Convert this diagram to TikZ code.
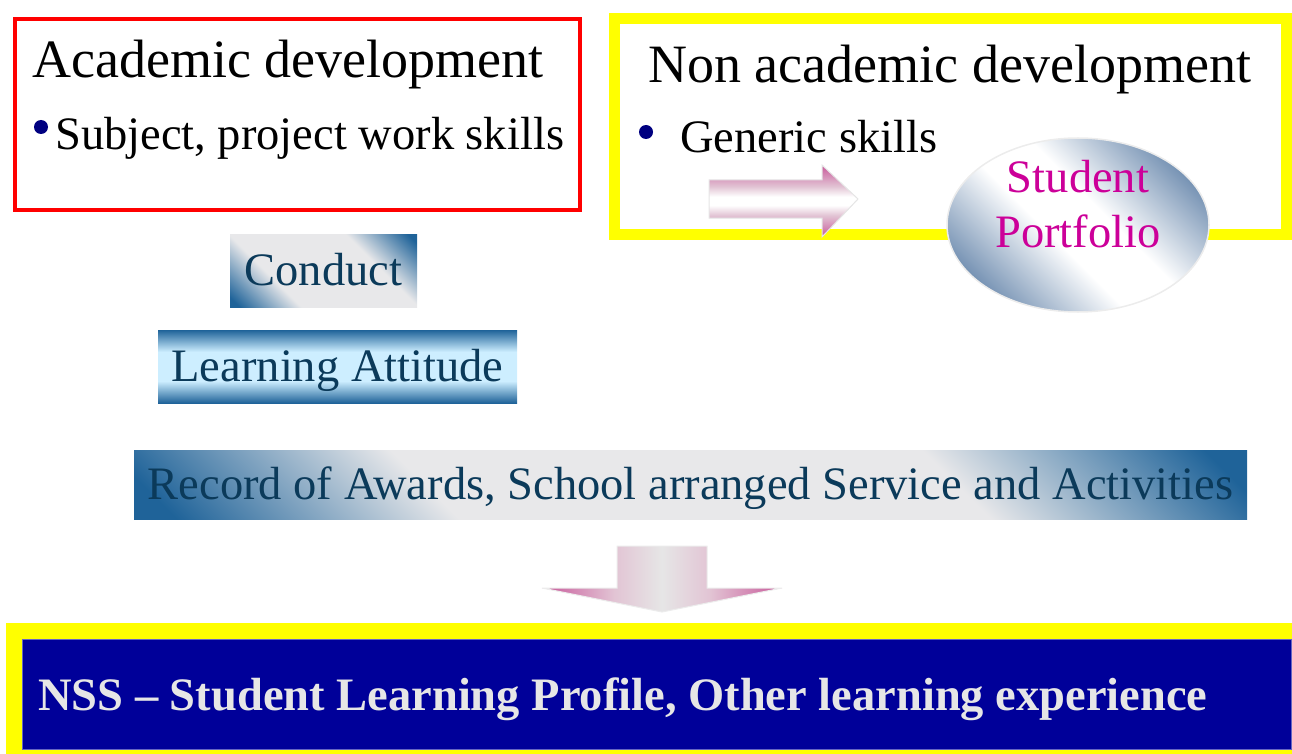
\documentclass[tikz,border=0pt]{standalone}
\usepackage{fontspec}
\usepackage{graphicx}
\newfontfamily\tnr{Liberation Serif}
\usetikzlibrary{shapes.geometric}
\definecolor{dblue}{HTML}{1F6399}
\definecolor{lgrey}{HTML}{E8E8EA}
\definecolor{tnavy}{HTML}{0B3A5A}
\definecolor{bnavy}{HTML}{000099}
\definecolor{mag}{HTML}{CC0099}
\definecolor{bul}{HTML}{000080}
\definecolor{steel}{HTML}{7390B2}
\definecolor{lcyan}{HTML}{CDEEFF}
\definecolor{pinkd}{HTML}{C8589A}
\definecolor{pinkl}{HTML}{E2C4D4}
\definecolor{greyc}{HTML}{E6E6E6}
\definecolor{ywl}{HTML}{FFFF00}
\pgfdeclareverticalshading{diagbox}{100bp}{color(0bp)=(dblue); color(17bp)=(dblue); color(34bp)=(lgrey); color(66bp)=(lgrey); color(83bp)=(dblue); color(100bp)=(dblue)}
\pgfdeclareverticalshading{ellshade}{100bp}{color(0bp)=(steel); color(24bp)=(steel); color(44bp)=(white); color(56bp)=(white); color(76bp)=(steel); color(100bp)=(steel)}
\pgfdeclareverticalshading{vband}{100bp}{color(0bp)=(dblue); color(25bp)=(dblue); color(40bp)=(lcyan); color(60bp)=(lcyan); color(75bp)=(dblue); color(100bp)=(dblue)}
\pgfdeclareverticalshading{pinkv}{100bp}{color(0bp)=(pinkd); color(25bp)=(pinkd); color(40bp)=(pinkl); color(47bp)=(white); color(53bp)=(white); color(60bp)=(pinkl); color(75bp)=(pinkd); color(100bp)=(pinkd)}
\pgfdeclarehorizontalshading{pinkh}{100bp}{color(0bp)=(pinkd); color(25bp)=(pinkd); color(40bp)=(pinkl); color(50bp)=(greyc); color(60bp)=(pinkl); color(75bp)=(pinkd); color(100bp)=(pinkd)}
% text is set at half size and scaled up twice
\newcommand{\bigt}[1]{\scalebox{2}{\tnr\fontsize{27}{30}\selectfont #1}}
\newcommand{\medt}[1]{\scalebox{2}{\tnr\fontsize{23.25}{27}\selectfont #1}}
\newcommand{\boldt}[1]{\scalebox{2}{\tnr\bfseries\fontsize{23.25}{27}\selectfont #1}}
\tikzset{
  txt/.style={inner sep=0pt, anchor=base west},
  bulletdot/.style={circle, fill=bul, inner sep=0pt, minimum size=14pt},
  gbox/.style={inner sep=0pt, text=tnavy, text height=30pt, text depth=0pt},
}
\begin{document}
\begin{tikzpicture}[x=1pt,y=-1pt]
\useasboundingbox (0,0) rectangle (1292,754);
% top boxes
\draw[red, line width=4pt] (15,19) rectangle (580,210);
\draw[ywl, line width=11pt] (614,19) rectangle (1286,234);
\node[txt] (acad) at (32,78) {\bigt{Academic development}};
\node[bulletdot] (b1) at (41,127) {};
\node[txt] (subj) at (55,150) {\medt{Subject, project work skills}};
\node[txt] (nonacad) at (648,83) {\bigt{Non academic development}};
\node[bulletdot] (b2) at (646,132) {};
\node[txt] (gen) at (680,153) {\medt{Generic skills}};
% right block arrow
\path[shading=pinkv, draw=gray!20, line width=1pt]
  (709,180) -- (822,180) -- (822,165) -- (858,199) -- (822,237) -- (822,218) -- (709,218) -- cycle;
% portfolio ellipse
\node[ellipse, shading=ellshade, shading angle=-45, draw=gray!15, line width=1.5pt,
      minimum width=262pt, minimum height=174pt, inner sep=0pt] (port) at (1078,225) {};
\node[txt, anchor=base, text=mag] (stud) at (1078,193) {\medt{Student}};
\node[txt, anchor=base, text=mag] (portf) at (1078,247) {\medt{Portfolio}};
% gradient boxes
\node[gbox, shading=diagbox, shading angle=-45, minimum width=187pt, minimum height=73pt] (cond) at (323.5,270.5) {\medt{Conduct}};
\node[gbox, shading=vband, minimum width=359pt, minimum height=73pt] (learn) at (337.5,366.5) {\medt{Learning Attitude}};
\node[gbox, shading=diagbox, shading angle=-45, minimum width=1113pt, minimum height=69pt] (rec) at (690.5,484.5) {\medt{Record of Awards, School arranged Service and Activities}};
% down block arrow
\path[shading=pinkh, draw=gray!15, line width=1pt]
  (617,546) -- (707,546) -- (707,588) -- (782,588) -- (662,612) -- (542,588) -- (617,588) -- cycle;
% bottom banner
\fill[ywl] (6,623) rectangle (1292,754);
\node[fill=bnavy, draw=bnavy!60!white, line width=1pt, inner sep=0pt, minimum width=1269pt, minimum height=110pt] (nss) at (656.5,694) {};
\node[txt, text=greyc] (nsstxt) at (38,710) {\boldt{NSS – Student Learning Profile, Other learning experience}};
\end{tikzpicture}
\end{document}
